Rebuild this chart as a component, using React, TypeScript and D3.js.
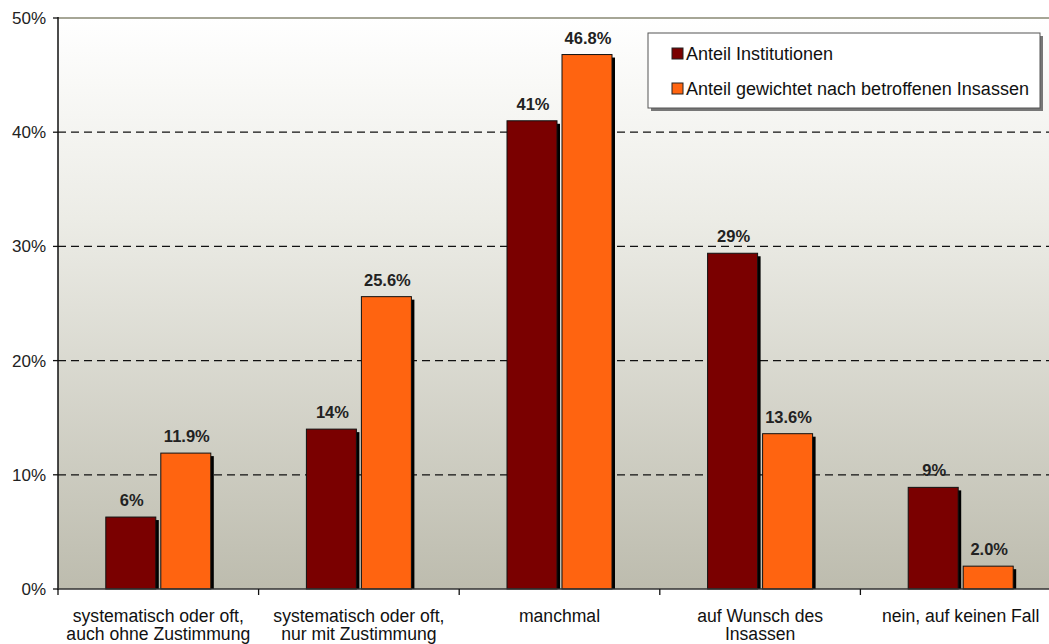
import React from "react";
import * as d3 from "d3";

const categories: string[][] = [
  ["systematisch oder oft,", "auch ohne Zustimmung"],
  ["systematisch oder oft,", "nur mit Zustimmung"],
  ["manchmal"],
  ["auf Wunsch des", "Insassen"],
  ["nein, auf keinen Fall"],
];
const seriesNames = ["Anteil Institutionen", "Anteil gewichtet nach betroffenen Insassen"];
const institutionen = [6.3, 14.0, 41.0, 29.4, 8.9];
const institutionenLabels = ["6%", "14%", "41%", "29%", "9%"];
const gewichtet = [11.9, 25.6, 46.8, 13.6, 2.0];
const gewichtetLabels = ["11.9%", "25.6%", "46.8%", "13.6%", "2.0%"];
const yTicks = [0, 10, 20, 30, 40, 50];
const colors = ["#7a0000", "#ff6410"];

export default function App() {
  const W = 1049, H = 644;
  const left = 58, top = 18, bottom = 589, right = 1061;
  const x = d3.scaleBand<number>().domain(d3.range(categories.length)).range([left, right]).padding(0);
  const y = d3.scaleLinear().domain([0, 50]).range([bottom, top]);
  const barW = 50, gap = 5;
  const series = [
    { values: institutionen, labels: institutionenLabels, color: colors[0] },
    { values: gewichtet, labels: gewichtetLabels, color: colors[1] },
  ];
  const font = "'Liberation Sans', Arial, sans-serif";
  return (
    <svg width={W} height={H} style={{ position: "absolute", left: 0, top: 0, background: "#fff" }} fontFamily={font}>
      <defs>
        <linearGradient id="bg" x1="0" y1="0" x2="0" y2="1">
          <stop offset="0" stopColor="#ffffff" />
          <stop offset="0.35" stopColor="#ecece6" />
          <stop offset="1" stopColor="#bdbcae" />
        </linearGradient>
      </defs>
      <rect x={left} y={top} width={W - left} height={bottom - top} fill="url(#bg)" />
      {yTicks.filter((t) => t > 0 && t < 50).map((t) => (
        <line key={t} x1={left} x2={W} y1={y(t)} y2={y(t)} stroke="#111" strokeWidth={1.3} strokeDasharray="8,5" />
      ))}
      <line x1={left} x2={W} y1={y(50)} y2={y(50)} stroke="#a6a696" strokeWidth={2} />
      {series.map((s, si) =>
        s.values.map((v, i) => {
          const cx = (x(i) as number) + x.bandwidth() / 2;
          const bx = si === 0 ? cx - gap / 2 - barW : cx + gap / 2;
          const by = y(v);
          return (
            <g key={`${si}-${i}`}>
              <rect x={bx + 3} y={by + 3} width={barW} height={bottom - by - 3} fill="#000" />
              <rect x={bx} y={by} width={barW} height={bottom - by} fill={s.color} stroke="#111" strokeWidth={1} />
              <text x={bx + barW / 2 + 1} y={by - 11} textAnchor="middle" fontSize={16.5} fontWeight="bold" fill="#222">
                {s.labels[i]}
              </text>
            </g>
          );
        })
      )}
      <line x1={left} x2={left} y1={top - 1} y2={bottom + 1} stroke="#111" strokeWidth={1.5} />
      <line x1={left} x2={W} y1={bottom} y2={bottom} stroke="#333" strokeWidth={1.5} />
      {yTicks.map((t) => (
        <g key={t}>
          <line x1={left - 5} x2={left} y1={y(t)} y2={y(t)} stroke="#111" strokeWidth={1.3} />
          <text x={left - 12} y={y(t) + 6} textAnchor="end" fontSize={17} fill="#222">{t}%</text>
        </g>
      ))}
      {d3.range(categories.length + 1).map((i) => {
        const tx = left + i * x.bandwidth();
        return tx <= W ? <line key={i} x1={tx} x2={tx} y1={bottom} y2={bottom + 6} stroke="#111" strokeWidth={1.3} /> : null;
      })}
      {categories.map((lines, i) => {
        const cx = (x(i) as number) + x.bandwidth() / 2;
        return (
          <text key={i} textAnchor="middle" fontSize={17.6} fill="#111">
            {lines.map((ln, j) => (
              <tspan key={j} x={cx} y={622 + j * 18}>{ln}</tspan>
            ))}
          </text>
        );
      })}
      <g>
        <rect x={651} y={36} width={392} height={75} fill="#777" />
        <rect x={648} y={33} width={392} height={75} fill="#fff" stroke="#555" strokeWidth={1} />
        {seriesNames.map((n, i) => (
          <g key={n}>
            <rect x={672} y={48 + i * 35} width={11} height={11} fill={colors[i]} stroke="#222" strokeWidth={1} />
            <text x={686} y={60 + i * 35} fontSize={18} fill="#111">{n}</text>
          </g>
        ))}
      </g>
    </svg>
  );
}
